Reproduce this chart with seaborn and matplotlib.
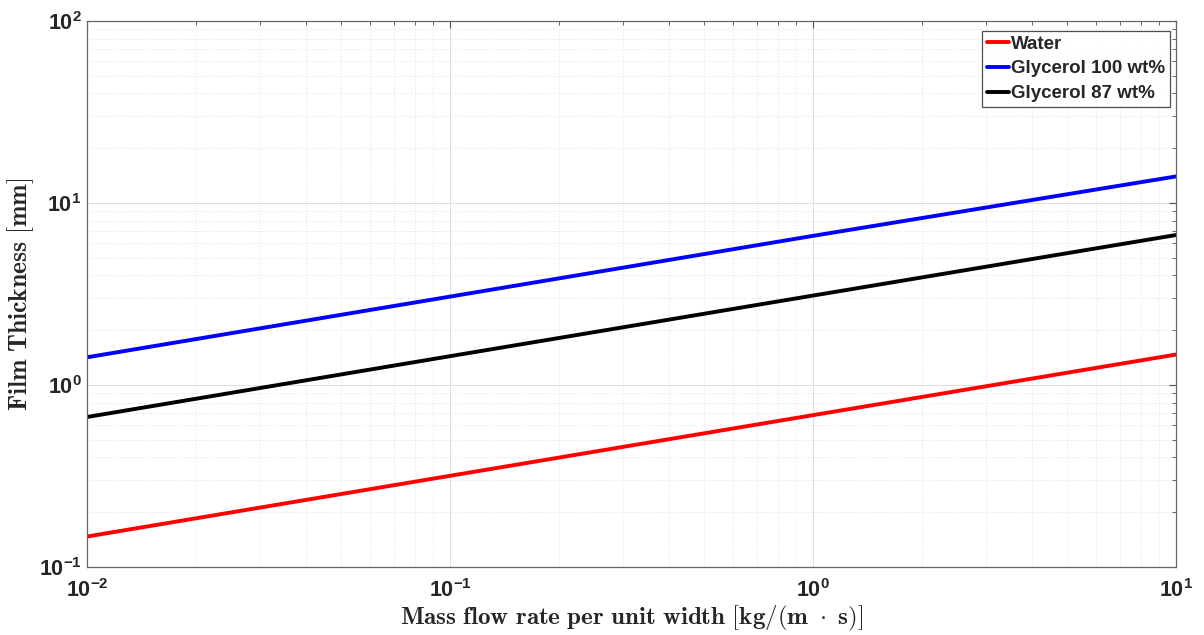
import numpy as np
import pandas as pd
import matplotlib
matplotlib.use("Agg")
import matplotlib.pyplot as plt
import seaborn as sns
from matplotlib.ticker import LogLocator, FuncFormatter, NullFormatter

# Mass flow rate per unit width [kg/(m s)]
flow_rate = [0.01, 0.1, 1.0, 10.0]
# Film thickness [mm] for each fluid
water = [0.147, 0.317, 0.683, 1.47]
glycerol_100 = [1.42, 3.06, 6.60, 14.0]
glycerol_87 = [0.667, 1.44, 3.10, 6.67]

fluids = ["Water", "Glycerol 100 wt%", "Glycerol 87 wt%"]
colors = ["#ff0000", "#0000ff", "#000000"]

df = pd.DataFrame({
    "flow": flow_rate * 3,
    "thickness": water + glycerol_100 + glycerol_87,
    "fluid": [fluids[0]] * 4 + [fluids[1]] * 4 + [fluids[2]] * 4,
})

sns.set_theme(style="white")
plt.rcParams["mathtext.fontset"] = "custom"
plt.rcParams["mathtext.rm"] = "Liberation Sans:bold"
plt.rcParams["mathtext.bf"] = "Liberation Sans:bold"
plt.rcParams["mathtext.it"] = "Liberation Sans:bold"
plt.rcParams["font.family"] = ["Liberation Sans", "DejaVu Sans"]

fig = plt.figure(figsize=(12.04, 6.35), dpi=100)
ax = fig.add_axes([0.0723, 0.1071, 0.9045, 0.8598])

sns.lineplot(data=df, x="flow", y="thickness", hue="fluid", hue_order=fluids,
             palette=colors, linewidth=2.8, ax=ax, legend=True)

ax.set_xscale("log")
ax.set_yscale("log")
ax.set_xlim(1e-2, 1e1)
ax.set_ylim(1e-1, 1e2)

ax.xaxis.set_major_locator(LogLocator(base=10, numticks=10))
ax.yaxis.set_major_locator(LogLocator(base=10, numticks=10))
ax.xaxis.set_minor_locator(LogLocator(base=10, subs=np.arange(2, 10), numticks=100))
ax.yaxis.set_minor_locator(LogLocator(base=10, subs=np.arange(2, 10), numticks=100))

def pow_fmt(v, pos):
    e = int(round(np.log10(v)))
    return r"$\mathbf{10^{%d}}$" % e

ax.xaxis.set_major_formatter(FuncFormatter(pow_fmt))
ax.yaxis.set_major_formatter(FuncFormatter(pow_fmt))
ax.xaxis.set_minor_formatter(NullFormatter())
ax.yaxis.set_minor_formatter(NullFormatter())

ax.tick_params(which="both", direction="in", top=True, right=True,
               color="#4d4d4d", labelcolor="#262626", labelsize=15.5)
ax.tick_params(which="major", length=5, width=0.8)
ax.tick_params(which="minor", length=3, width=0.6)
ax.tick_params(axis="x", which="major", pad=9)
ax.tick_params(axis="y", which="major", pad=4)
for s in ax.spines.values():
    s.set_color("#666666")
    s.set_linewidth(0.9)

ax.grid(which="major", color="#dedede", linewidth=0.7, linestyle="-")
ax.grid(which="minor", color="#e3e3e3", linewidth=0.6, linestyle=(0, (1.5, 2)))
ax.set_axisbelow(True)

ax.set_xlabel(r"$\mathbf{Mass\ flow\ rate\ per\ unit\ width\ [kg/(m\ \cdot\ s)]}$",
              math_fontfamily="cm", fontsize=18, color="#262626", labelpad=1)
ax.set_ylabel(r"$\mathbf{Film\ Thickness\ [mm]}$",
              math_fontfamily="cm", fontsize=18.5, color="#262626", labelpad=2)

leg = ax.legend(loc="upper right", bbox_to_anchor=(0.9945, 0.9817),
                frameon=True, fancybox=False,
                handlelength=1.2, handletextpad=0.1, borderpad=0.25,
                labelspacing=0.4, borderaxespad=0.0,
                prop={"weight": "bold", "size": 13.5})
leg.get_frame().set_edgecolor("#222222")
leg.get_frame().set_linewidth(0.9)
for line in leg.get_lines():
    line.set_linewidth(2.8)

fig.savefig("out.png", dpi=100, facecolor="white")
